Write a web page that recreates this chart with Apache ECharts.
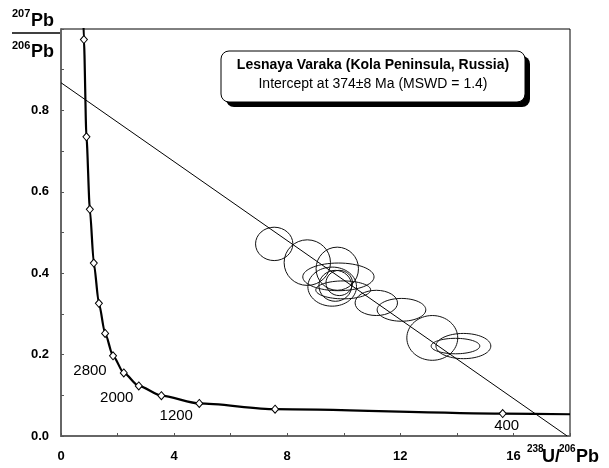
<!DOCTYPE html>
<html><head><meta charset="utf-8">
<script src="https://cdn.jsdelivr.net/npm/echarts@6/dist/echarts.min.js"></script>
<style>html,body{margin:0;padding:0;background:#fff}#c{width:609px;height:468px}</style>
</head><body><div id="c"></div>
<script>
// Concordia age markers (Ma) and their positions
const concordiaAges = [5200, 4800, 4400, 4000, 3600, 3200, 2800, 2400, 2000, 1600, 1200, 800, 400];
const concordiaX = [0.81, 0.90, 1.02, 1.16, 1.34, 1.56, 1.84, 2.22, 2.75, 3.55, 4.89, 7.57, 15.62];
const concordiaY = [0.974, 0.735, 0.557, 0.425, 0.326, 0.252, 0.197, 0.155, 0.123, 0.099, 0.080, 0.066, 0.055];
const curveTopEnd = [0.78, 1.05];
const curveRightEnd = [18, 0.0535];
const labeledAges = [2800, 2000, 1200, 400];

// Discordia line end points
const discordiaX = [0, 17.9];
const discordiaY = [0.868, 0];

// Error ellipses: centre and half-axes
const ellipseX  = [7.54, 8.71, 9.77, 9.81, 9.59, 9.70, 9.98, 9.84, 11.15, 12.04, 13.13, 14.23, 13.95];
const ellipseY  = [0.472, 0.426, 0.411, 0.391, 0.367, 0.369, 0.359, 0.376, 0.327, 0.310, 0.241, 0.221, 0.221];
const ellipseSX = [0.66, 0.82, 0.75, 1.26, 0.86, 0.58, 0.97, 0.47, 0.75, 0.86, 0.90, 0.97, 0.86];
const ellipseSY = [0.041, 0.056, 0.053, 0.034, 0.048, 0.038, 0.022, 0.031, 0.031, 0.028, 0.055, 0.031, 0.019];

const xTicks = { min: 0, max: 18, step: 2, labelEvery: 4 };
const yTicks = { min: 0, max: 1.0, step: 0.1 };

const titleLine1 = 'Lesnaya Varaka (Kola Peninsula, Russia)';
const titleLine2 = 'Intercept at 374\u00b18 Ma (MSWD = 1.4)';

const FONT = "'Liberation Sans', Arial, sans-serif";

const labelOffsets = { 2800: [-23, 15], 2000: [-22, 12], 1200: [-23, 12], 400: [4, 12] };

const concordiaData = [{ value: curveTopEnd, symbol: 'none' }];
concordiaAges.forEach((age, i) => {
  const item = { value: [concordiaX[i], concordiaY[i]] };
  if (labeledAges.indexOf(age) >= 0) {
    item.label = { show: true, position: 'inside', offset: labelOffsets[age], formatter: String(age),
      fontSize: 15, color: '#000', fontFamily: FONT };
  }
  concordiaData.push(item);
});
concordiaData.push({ value: curveRightEnd, symbol: 'none' });

const ellipseData = ellipseX.map((x, i) => [x, ellipseY[i], ellipseSX[i], ellipseSY[i]]);
const discordiaData = discordiaX.map((x, i) => [x, discordiaY[i]]);

const chart = echarts.init(document.getElementById('c'), null, { renderer: 'canvas' });
chart.setOption({
  animation: false,
  backgroundColor: '#fff',
  grid: { left: 61, right: 39, top: 29, bottom: 32, show: true, borderColor: '#000', borderWidth: 1, backgroundColor: 'transparent' },
  xAxis: {
    type: 'value', min: xTicks.min, max: xTicks.max, interval: xTicks.step,
    axisLine: { lineStyle: { color: '#666', width: 2 } },
    axisTick: { inside: true, length: 3, lineStyle: { color: '#555' } },
    splitLine: { show: false },
    axisLabel: { margin: 14, color: '#000', fontWeight: 'bold', fontSize: 13, fontFamily: FONT,
      formatter: v => (Math.round(v) % xTicks.labelEvery === 0 && v < xTicks.max) ? String(Math.round(v)) : '' }
  },
  yAxis: {
    type: 'value', min: yTicks.min, max: yTicks.max, interval: yTicks.step,
    axisLine: { lineStyle: { color: '#666', width: 2 } },
    axisTick: { inside: true, length: 3, lineStyle: { color: '#555' } },
    splitLine: { show: false },
    axisLabel: { margin: 12, color: '#000', fontWeight: 'bold', fontSize: 13, fontFamily: FONT,
      formatter: v => { const k = Math.round(v * 10); return (k % 2 === 0 && k < 10) ? (k / 10).toFixed(1) : ''; } }
  },
  series: [
    {
      type: 'custom', z: 2,
      data: ellipseData,
      renderItem: (params, api) => {
        const c = api.coord([api.value(0), api.value(1)]);
        const s = api.size([api.value(2), api.value(3)]);
        return { type: 'ellipse', shape: { cx: c[0], cy: c[1], rx: s[0], ry: s[1] },
          style: { fill: 'none', stroke: '#111', lineWidth: 1 } };
      },
      clip: true
    },
    {
      type: 'line', z: 3, data: discordiaData, symbol: 'none',
      lineStyle: { color: '#000', width: 1 }
    },
    {
      type: 'line', z: 4, data: concordiaData, smooth: 0.25, smoothMonotone: 'x',
      symbol: 'diamond', symbolSize: [7, 8],
      itemStyle: { color: '#fff', borderColor: '#000', borderWidth: 1 },
      lineStyle: { color: '#000', width: 2.2 }
    }
  ],
  graphic: [
    { type: 'rect', shape: { x: 226, y: 56, width: 304, height: 51, r: 8 }, style: { fill: '#000' }, z: 10 },
    { type: 'rect', shape: { x: 221, y: 51, width: 304, height: 51, r: 8 }, style: { fill: '#fff', stroke: '#000', lineWidth: 1 }, z: 11 },
    { type: 'text', x: 373, y: 65, z: 12, style: { text: titleLine1, font: "bold 14px " + FONT, fill: '#000', textAlign: 'center', textVerticalAlign: 'middle' } },
    { type: 'text', x: 373, y: 84, z: 12, style: { text: titleLine2, font: "14px " + FONT, fill: '#000', textAlign: 'center', textVerticalAlign: 'middle' } },
    // y-axis title: 207Pb / 206Pb
    { type: 'text', x: 12, y: 14, style: { text: '207', font: "bold 11px " + FONT, fill: '#000', textAlign: 'left', textVerticalAlign: 'middle' } },
    { type: 'text', x: 31, y: 21.5, style: { text: 'Pb', font: "bold 18px " + FONT, fill: '#000', textAlign: 'left', textVerticalAlign: 'middle' } },
    { type: 'line', shape: { x1: 12, y1: 33, x2: 61, y2: 33 }, style: { stroke: '#000', lineWidth: 1.5 } },
    { type: 'text', x: 12, y: 46, style: { text: '206', font: "bold 11px " + FONT, fill: '#000', textAlign: 'left', textVerticalAlign: 'middle' } },
    { type: 'text', x: 31, y: 52.5, style: { text: 'Pb', font: "bold 18px " + FONT, fill: '#000', textAlign: 'left', textVerticalAlign: 'middle' } },
    // x-axis title: 238U/206Pb
    { type: 'text', x: 527, y: 449, style: { text: '238', font: "bold 10px " + FONT, fill: '#000', textAlign: 'left', textVerticalAlign: 'middle' } },
    { type: 'text', x: 542, y: 457, style: { text: 'U/', font: "bold 18px " + FONT, fill: '#000', textAlign: 'left', textVerticalAlign: 'middle' } },
    { type: 'text', x: 559, y: 449, style: { text: '206', font: "bold 10px " + FONT, fill: '#000', textAlign: 'left', textVerticalAlign: 'middle' } },
    { type: 'text', x: 576, y: 457, style: { text: 'Pb', font: "bold 18px " + FONT, fill: '#000', textAlign: 'left', textVerticalAlign: 'middle' } }
  ]
});
</script>
</body></html>
